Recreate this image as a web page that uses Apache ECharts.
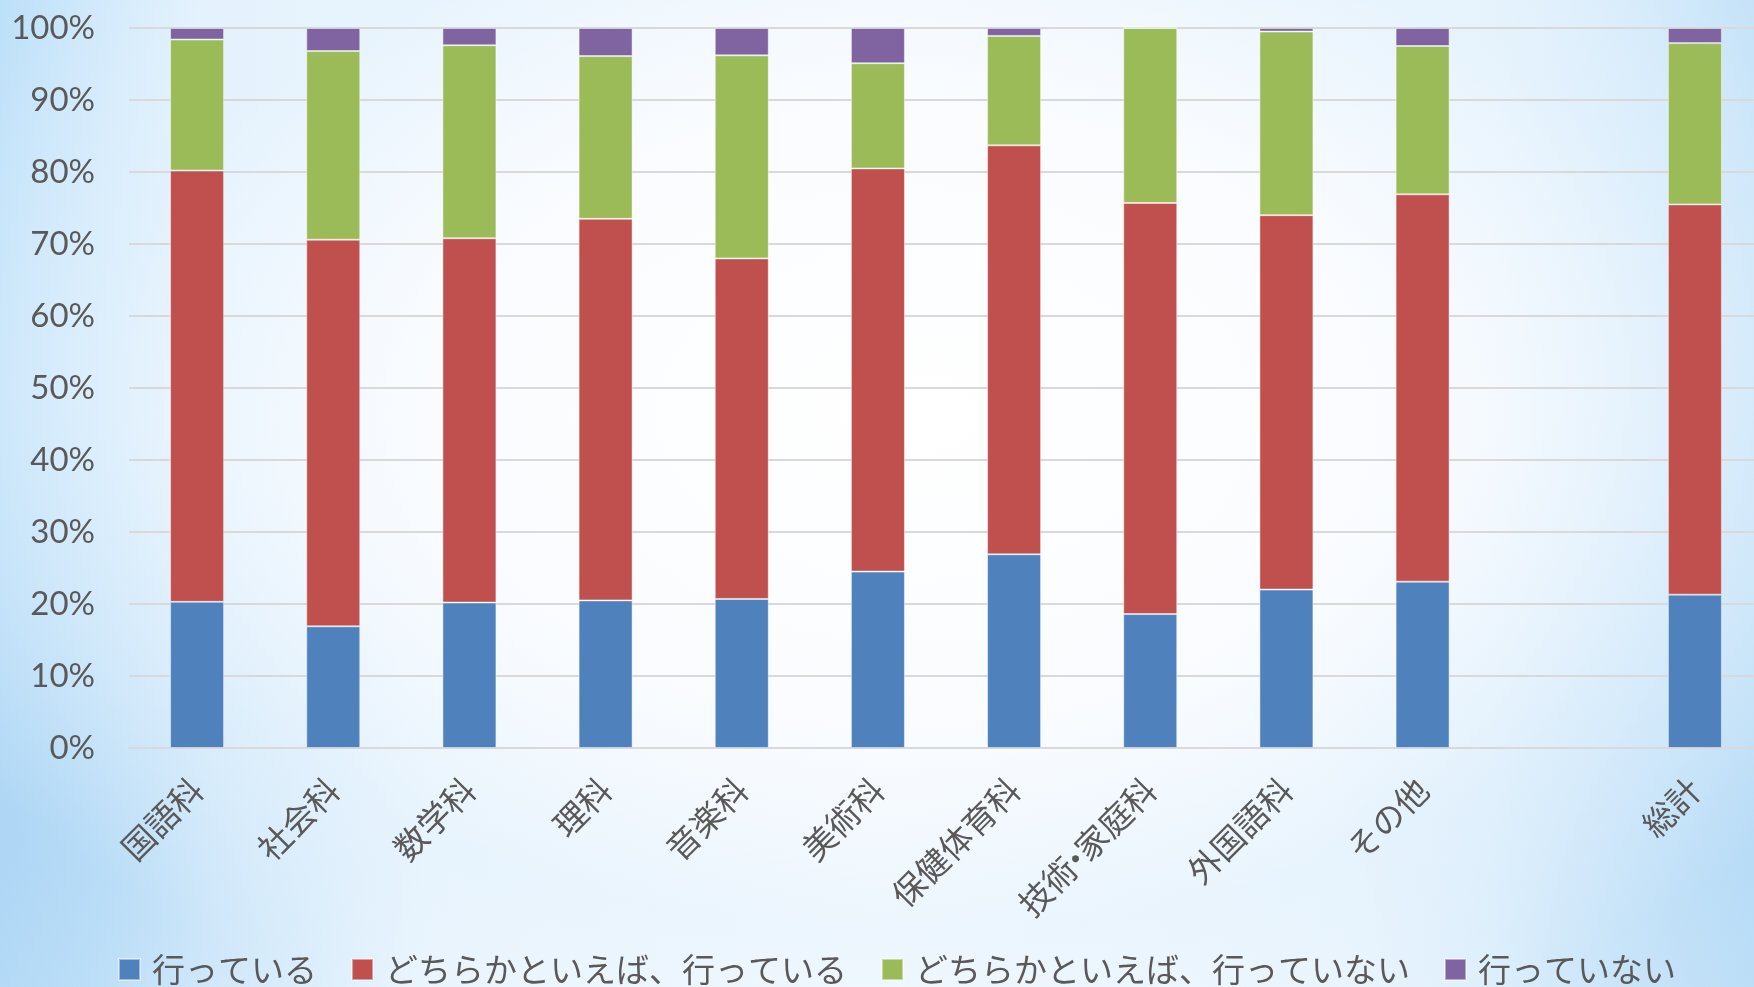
<!DOCTYPE html>
<html>
<head>
<meta charset="utf-8">
<script src="https://cdn.jsdelivr.net/npm/echarts@6/dist/echarts.min.js"></script>
<style>
html, body { margin: 0; padding: 0; }
body {
  width: 1754px; height: 987px; overflow: hidden; position: relative;
  background:
    radial-gradient(ellipse 62% 70% at 52% 42%, rgba(255,255,255,1) 0%, rgba(250,252,255,0.95) 45%, rgba(230,243,253,0.6) 75%, rgba(200,228,249,0) 100%),
    radial-gradient(ellipse 25% 45% at 0% 85%, rgba(170,212,244,0.8) 0%, rgba(170,212,244,0) 100%),
    radial-gradient(ellipse 25% 45% at 100% 80%, rgba(175,215,245,0.6) 0%, rgba(175,215,245,0) 100%),
    linear-gradient(90deg, #bde0f9 0%, #e4f2fd 12%, #f6fafe 50%, #e6f3fd 85%, #c2e1f8 100%);
}
#chart { position: absolute; left: 0; top: 0; width: 1780px; height: 987px; }
</style>
</head>
<body>
<div id="chart"></div>
<script>
// Data (percentages)
const categories = ['国語科', '社会科', '数学科', '理科', '音楽科', '美術科', '保健体育科', '技術・家庭科', '外国語科', 'その他', '', '総計'];
const seriesNames = ['行っている', 'どちらかといえば、行っている', 'どちらかといえば、行っていない', '行っていない'];
const doing       = [20.3, 16.9, 20.2, 20.5, 20.7, 24.5, 26.9, 18.6, 22.0, 23.1, null, 21.3];
const ratherDoing = [59.9, 53.7, 50.6, 53.0, 47.3, 56.0, 56.8, 57.1, 52.0, 53.8, null, 54.2];
const ratherNot   = [18.2, 26.2, 26.8, 22.6, 28.2, 14.6, 15.2, 24.3, 25.5, 20.6, null, 22.4];
const notDoing    = [1.6, 3.2, 2.4, 3.9, 3.8, 4.9, 1.1, 0.0, 0.5, 2.5, null, 2.1];
const yTicks = [0, 10, 20, 30, 40, 50, 60, 70, 80, 90, 100];

const colors = ['#4F81BD', '#C0504D', '#9BBB59', '#8064A2'];
const values = [doing, ratherDoing, ratherNot, notDoing];
const textColor = '#595959';
const cjk = '"Noto Sans CJK JP", sans-serif';

const chart = echarts.init(document.getElementById('chart'), null, { renderer: 'canvas' });
chart.setOption({
  backgroundColor: 'transparent',
  animation: false,
  color: colors,
  grid: { left: 129, top: 28, width: 1634, height: 720, containLabel: false },
  legend: {
    left: 113,
    top: 948,
    icon: 'rect',
    itemWidth: 21,
    itemHeight: 21,
    itemGap: 34,
    textStyle: { fontSize: 33, color: textColor, fontFamily: cjk, padding: [0, 0, 0, 7] },
    data: seriesNames
  },
  xAxis: {
    type: 'category',
    data: categories,
    axisLine: { show: true, lineStyle: { color: '#d9d9d9', width: 2 } },
    axisTick: { show: false },
    axisLabel: {
      rotate: 45,
      interval: 0,
      margin: 36,
      fontSize: 33,
      color: textColor,
      fontFamily: cjk,
      formatter: function (v) {
        return v.split('・').map(function (p) { return p ? '{t|' + p + '}' : ''; }).join('{d|・}');
      },
      rich: {
        t: { fontSize: 33, color: textColor, fontFamily: cjk },
        d: { fontSize: 33, color: textColor, fontFamily: cjk, width: 13, align: 'center' }
      }
    }
  },
  yAxis: {
    type: 'value',
    min: yTicks[0],
    max: yTicks[yTicks.length - 1],
    interval: 10,
    axisLine: { show: false },
    axisTick: { show: false },
    splitLine: { lineStyle: { color: '#d9d9d9', width: 2 } },
    axisLabel: {
      margin: 34,
      fontSize: 33,
      color: textColor,
      fontFamily: 'Lato, "Noto Sans", sans-serif',
      formatter: '{value}%'
    }
  },
  series: seriesNames.map((name, i) => ({
    name: name,
    type: 'bar',
    stack: 'total',
    barWidth: 54,
    data: values[i],
    itemStyle: { color: colors[i], borderColor: 'rgba(255,255,255,0.45)', borderWidth: 1 }
  }))
});
</script>
</body>
</html>
